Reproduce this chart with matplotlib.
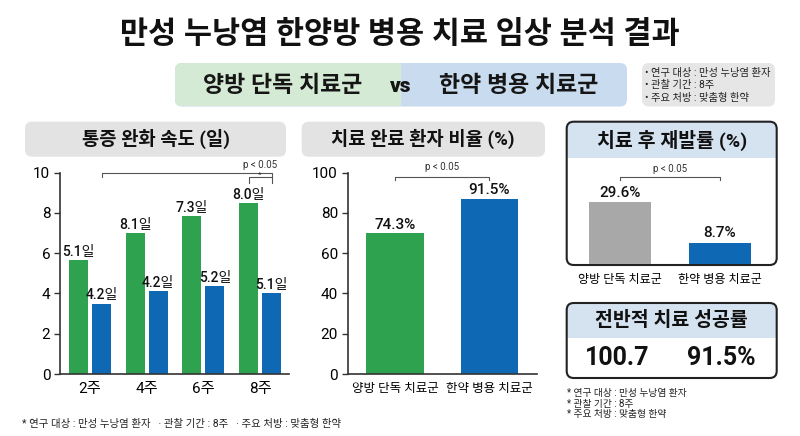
import matplotlib
matplotlib.use("Agg")
import matplotlib.pyplot as plt
from matplotlib.patches import FancyBboxPatch, Rectangle

plt.rcParams['font.family'] = ['Roboto', 'Noto Sans CJK KR', 'DejaVu Sans']

# data
weeks = ['2주', '4주', '6주', '8주']
relief_western = [5.65, 7.0, 7.85, 8.5]
relief_combined = [3.5, 4.1, 4.35, 4.0]
relief_western_labels = ['5.1일', '8.1일', '7.3일', '8.0일']
relief_combined_labels = ['4.2일', '4.2일', '5.2일', '5.1일']

groups = ['양방 단독 치료군', '한약 병용 치료군']
completion = [70.0, 87.0]
completion_labels = ['74.3%', '91.5%']

relapse = [29.6, 10.0]
relapse_labels = ['29.6%', '8.7%']

success_labels = ['100.7', '91.5%']

GREEN = '#2ea24e'
BLUE = '#0e68b4'
GRAY = '#a8a8a8'
SPINE = '#333333'

W, H = 800, 436


def rect(x0, y0, x1, y1):
    return [x0 / W, 1 - y1 / H, (x1 - x0) / W, (y1 - y0) / H]


fig = plt.figure(figsize=(8, 4.36), dpi=100)
fig.patch.set_facecolor('white')

bg = fig.add_axes([0, 0, 1, 1])
bg.set_xlim(0, W)
bg.set_ylim(H, 0)
bg.axis('off')


def rbox(x0, y0, x1, y1, fc, ec='none', lw=0, r=7):
    p = FancyBboxPatch((x0, y0), x1 - x0, y1 - y0,
                       boxstyle='round,pad=0,rounding_size=%s' % r,
                       fc=fc, ec=ec, lw=lw)
    bg.add_patch(p)
    return p


# title
bg.text(400, 34, '만성 누낭염 한양방 병용 치료 임상 분석 결과', ha='center', va='center',
        fontsize=22, fontweight='black', color='#111111')

# banner
ban = rbox(175, 63, 627, 106.5, '#c9dbee')
green_half = Rectangle((175, 63), 401 - 175, 43.5, fc='#d4ead5', ec='none')
bg.add_patch(green_half)
green_half.set_clip_path(ban)
bg.text(283, 85, '양방 단독 치료군', ha='center', va='center', fontsize=16.5,
        fontweight='black', color='#151515')
bg.text(401, 86, 'vs', ha='center', va='center', fontsize=15,
        fontweight='black', color='#151515')
bg.text(519, 85, '한약 병용 치료군', ha='center', va='center', fontsize=16.5,
        fontweight='black', color='#151515')

# info box
rbox(642, 63, 775, 106.5, '#e6e6e6')
info = ['• 연구 대상 : 만성 누낭염 환자', '• 관찰 기간 : 8주', '• 주요 처방 : 맞춤형 한약']
for i, s in enumerate(info):
    bg.text(645, 73 + i * 12.3, s, ha='left', va='center', fontsize=7.4, color='#222222')

# panel title boxes
rbox(25, 121.7, 286, 156.7, '#e3e3e3')
bg.text(155.5, 139, '통증 완화 속도 (일)', ha='center', va='center', fontsize=13.5,
        fontweight='bold', color='#111111')
rbox(301.7, 121.7, 545, 156.7, '#e3e3e3')
bg.text(423, 139, '치료 완료 환자 비율 (%)', ha='center', va='center', fontsize=13.5,
        fontweight='bold', color='#111111')


def card(x0, y0, x1, y1, yh, title, ty):
    body = rbox(x0, y0, x1, y1, 'white')
    head = Rectangle((x0, y0), x1 - x0, yh - y0, fc='#d5e3f1', ec='none')
    bg.add_patch(head)
    head.set_clip_path(body)
    rbox(x0, y0, x1, y1, 'none', ec='#222222', lw=1.5)
    bg.text((x0 + x1) / 2, ty, title, ha='center', va='center', fontsize=14,
            fontweight='bold', color='#111111')


card(566.7, 121.7, 776.7, 265, 157.7, '치료 후 재발률 (%)', 140)
card(566.7, 303, 776.7, 378, 338, '전반적 치료 성공률', 320)
bg.text(616.7, 358, success_labels[0], ha='center', va='center', fontsize=18,
        fontweight='bold', color='#111111')
bg.text(721.7, 358, success_labels[1], ha='center', va='center', fontsize=18,
        fontweight='bold', color='#111111')

notes = ['* 연구 대상 : 만성 누낭염 환자', '* 관찰 기간 : 8주', '* 주요 처방 : 맞춤형 한약']
for i, s in enumerate(notes):
    bg.text(567, 393 + i * 10.5, s, ha='left', va='center', fontsize=7, color='#222222')

bg.text(22, 424, '* 연구 대상 : 만성 누낭염 환자   · 관찰 기간 : 8주   · 주요 처방 : 맞춤형 한약',
        ha='left', va='center', fontsize=7.5, color='#222222')


def style_axis(ax):
    ax.patch.set_alpha(0)
    for s in ['top', 'right']:
        ax.spines[s].set_visible(False)
    for s in ['left', 'bottom']:
        ax.spines[s].set_color(SPINE)
        ax.spines[s].set_linewidth(1.2)
    ax.tick_params(axis='y', length=4, width=1, color=SPINE, labelsize=11, pad=3)
    ax.tick_params(axis='x', length=0, pad=6)


def bracket(ax, x0, x1, y, drop, text=None, pos=None, fs=7):
    ax.plot([x0, x0, x1, x1], [y - drop, y, y, y - drop], color='#555555', lw=0.8,
            clip_on=False)
    if text:
        tx, ty = pos
        ax.text(tx, ty, text, ha='center', va='bottom', fontsize=fs, color='#333333')


# panel 1: relief speed
ax1 = fig.add_axes(rect(60, 172.7, 289, 374))
style_axis(ax1)
x = list(range(len(weeks)))
bw, off = 0.335, 0.203
b1 = ax1.bar([i - off for i in x], relief_western, bw, color=GREEN)
b2 = ax1.bar([i + off for i in x], relief_combined, bw, color=BLUE)
for bars, labels in [(b1, relief_western_labels), (b2, relief_combined_labels)]:
    for b, lab in zip(bars, labels):
        ax1.annotate(lab, (b.get_x() + b.get_width() / 2, b.get_height()),
                     xytext=(0, 1), textcoords='offset points', ha='center',
                     va='bottom', fontsize=10, fontweight='medium', color='#111111')
ax1.set_ylim(0, 10)
ax1.set_xlim(-0.53, 3.51)
ax1.set_yticks([0, 2, 4, 6, 8, 10])
ax1.set_xticks(x)
ax1.set_xticklabels(weeks, fontsize=11)
bracket(ax1, off, 3 + off, 10.0, 0.2, 'p < 0.05', (3.0, 10.12))
bracket(ax1, 3 - off, 3 + off, 9.78, 0.3, '*', (3.0, 9.74), fs=6)

# panel 2: completion rate
ax2 = fig.add_axes(rect(347.7, 172.7, 536.7, 374))
style_axis(ax2)
x2 = list(range(len(groups)))
bars = ax2.bar(x2, completion, 0.61, color=[GREEN, BLUE])
for b, lab in zip(bars, completion_labels):
    ax2.annotate(lab, (b.get_x() + b.get_width() / 2, b.get_height()),
                 xytext=(0, 1), textcoords='offset points', ha='center',
                 va='bottom', fontsize=11, fontweight='medium', color='#111111')
ax2.set_ylim(0, 100)
ax2.set_xlim(-0.5, 1.5)
ax2.set_yticks([0, 20, 40, 60, 80, 100])
ax2.set_xticks(x2)
ax2.set_xticklabels(groups, fontsize=9)
bracket(ax2, 0, 1, 98, 1.6, 'p < 0.05', (0.5, 100.2))

# panel 3: relapse rate
ax3 = fig.add_axes(rect(566.7, 157.7, 776.7, 263.5))
ax3.patch.set_alpha(0)
for s in ax3.spines.values():
    s.set_visible(False)
bars = ax3.bar(x2, relapse, 0.62, color=[GRAY, BLUE])
for b, lab in zip(bars, relapse_labels):
    ax3.annotate(lab, (b.get_x() + b.get_width() / 2, b.get_height()),
                 xytext=(0, 2), textcoords='offset points', ha='center',
                 va='bottom', fontsize=11, fontweight='medium', color='#111111')
ax3.set_ylim(0, 51.3)
ax3.set_xlim(-0.533, 1.567)
ax3.set_yticks([])
ax3.set_xticks(x2)
ax3.set_xticklabels(groups, fontsize=8.7)
ax3.tick_params(axis='x', length=0, pad=7)
bracket(ax3, 0, 1, 42.1, 1.6, 'p < 0.05', (0.5, 43.6))

fig.savefig('out.png', dpi=100, facecolor='white')
